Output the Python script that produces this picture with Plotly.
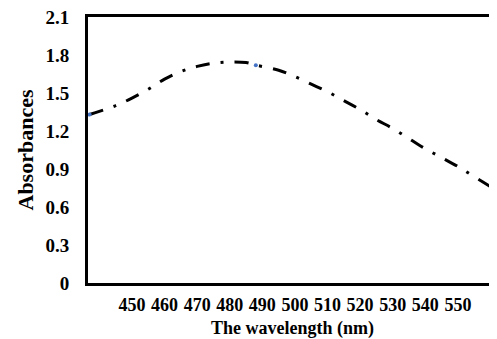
import plotly.graph_objects as go

wavelength = [437, 445, 450, 455, 460, 465, 470, 475, 480, 485, 488, 495, 500, 505, 510,
              515, 520, 525, 530, 535, 540, 545, 550, 555, 562]
absorbance = [1.33, 1.40, 1.46, 1.53, 1.61, 1.67, 1.71, 1.735, 1.745, 1.74, 1.72, 1.68, 1.63,
              1.57, 1.51, 1.44, 1.37, 1.29, 1.22, 1.14, 1.06, 0.99, 0.92, 0.84, 0.73]
marker_x = [437, 488]
marker_y = [1.33, 1.72]
x_ticks = [450, 460, 470, 480, 490, 500, 510, 520, 530, 540, 550]
y_ticks = [0, 0.3, 0.6, 0.9, 1.2, 1.5, 1.8, 2.1]
y_ticktext = ["0", "0.3", "0.6", "0.9", "1.2", "1.5", "1.8", "2.1"]

FONT = "Liberation Serif, Times New Roman, serif"

fig = go.Figure()
fig.add_trace(go.Scatter(
    x=wavelength, y=absorbance, mode="lines",
    line=dict(color="black", width=3, dash="14px,11px,3px,11px", shape="spline"),
    showlegend=False, hoverinfo="skip"))
fig.add_trace(go.Scatter(
    x=marker_x, y=marker_y, mode="markers",
    marker=dict(color="#4472C4", size=4),
    showlegend=False))

fig.update_layout(
    width=489, height=331,
    margin=dict(l=80, r=0, t=9, b=56),
    paper_bgcolor="white", plot_bgcolor="white",
    font=dict(family=FONT, color="black"),
    xaxis=dict(
        range=[436.5, 562], tickvals=x_ticks, ticktext=[str(v) for v in x_ticks],
        showgrid=False, zeroline=False, showline=True, linecolor="black", linewidth=3,
        mirror=True, ticks="", ticklabelstandoff=3, automargin=False,
        ticklabeloverflow="allow",
        tickfont=dict(family=FONT, size=18, color="black", weight="bold"),
        title=dict(text="<b>The wavelength (nm)</b>", font=dict(family=FONT, size=18, color="black"),
                   standoff=9),
    ),
    yaxis=dict(
        range=[0, 2.1], tickvals=y_ticks, ticktext=y_ticktext,
        showgrid=False, zeroline=False, showline=True, linecolor="black", linewidth=3,
        ticks="", ticklabelstandoff=12, automargin=False,
        ticklabeloverflow="allow",
        tickfont=dict(family=FONT, size=19, color="black", weight="bold"),
        title=dict(text="<b>Absorbances</b>", font=dict(family=FONT, size=22, color="black"),
                   standoff=6),
    ),
)

fig.write_html("out.html")
